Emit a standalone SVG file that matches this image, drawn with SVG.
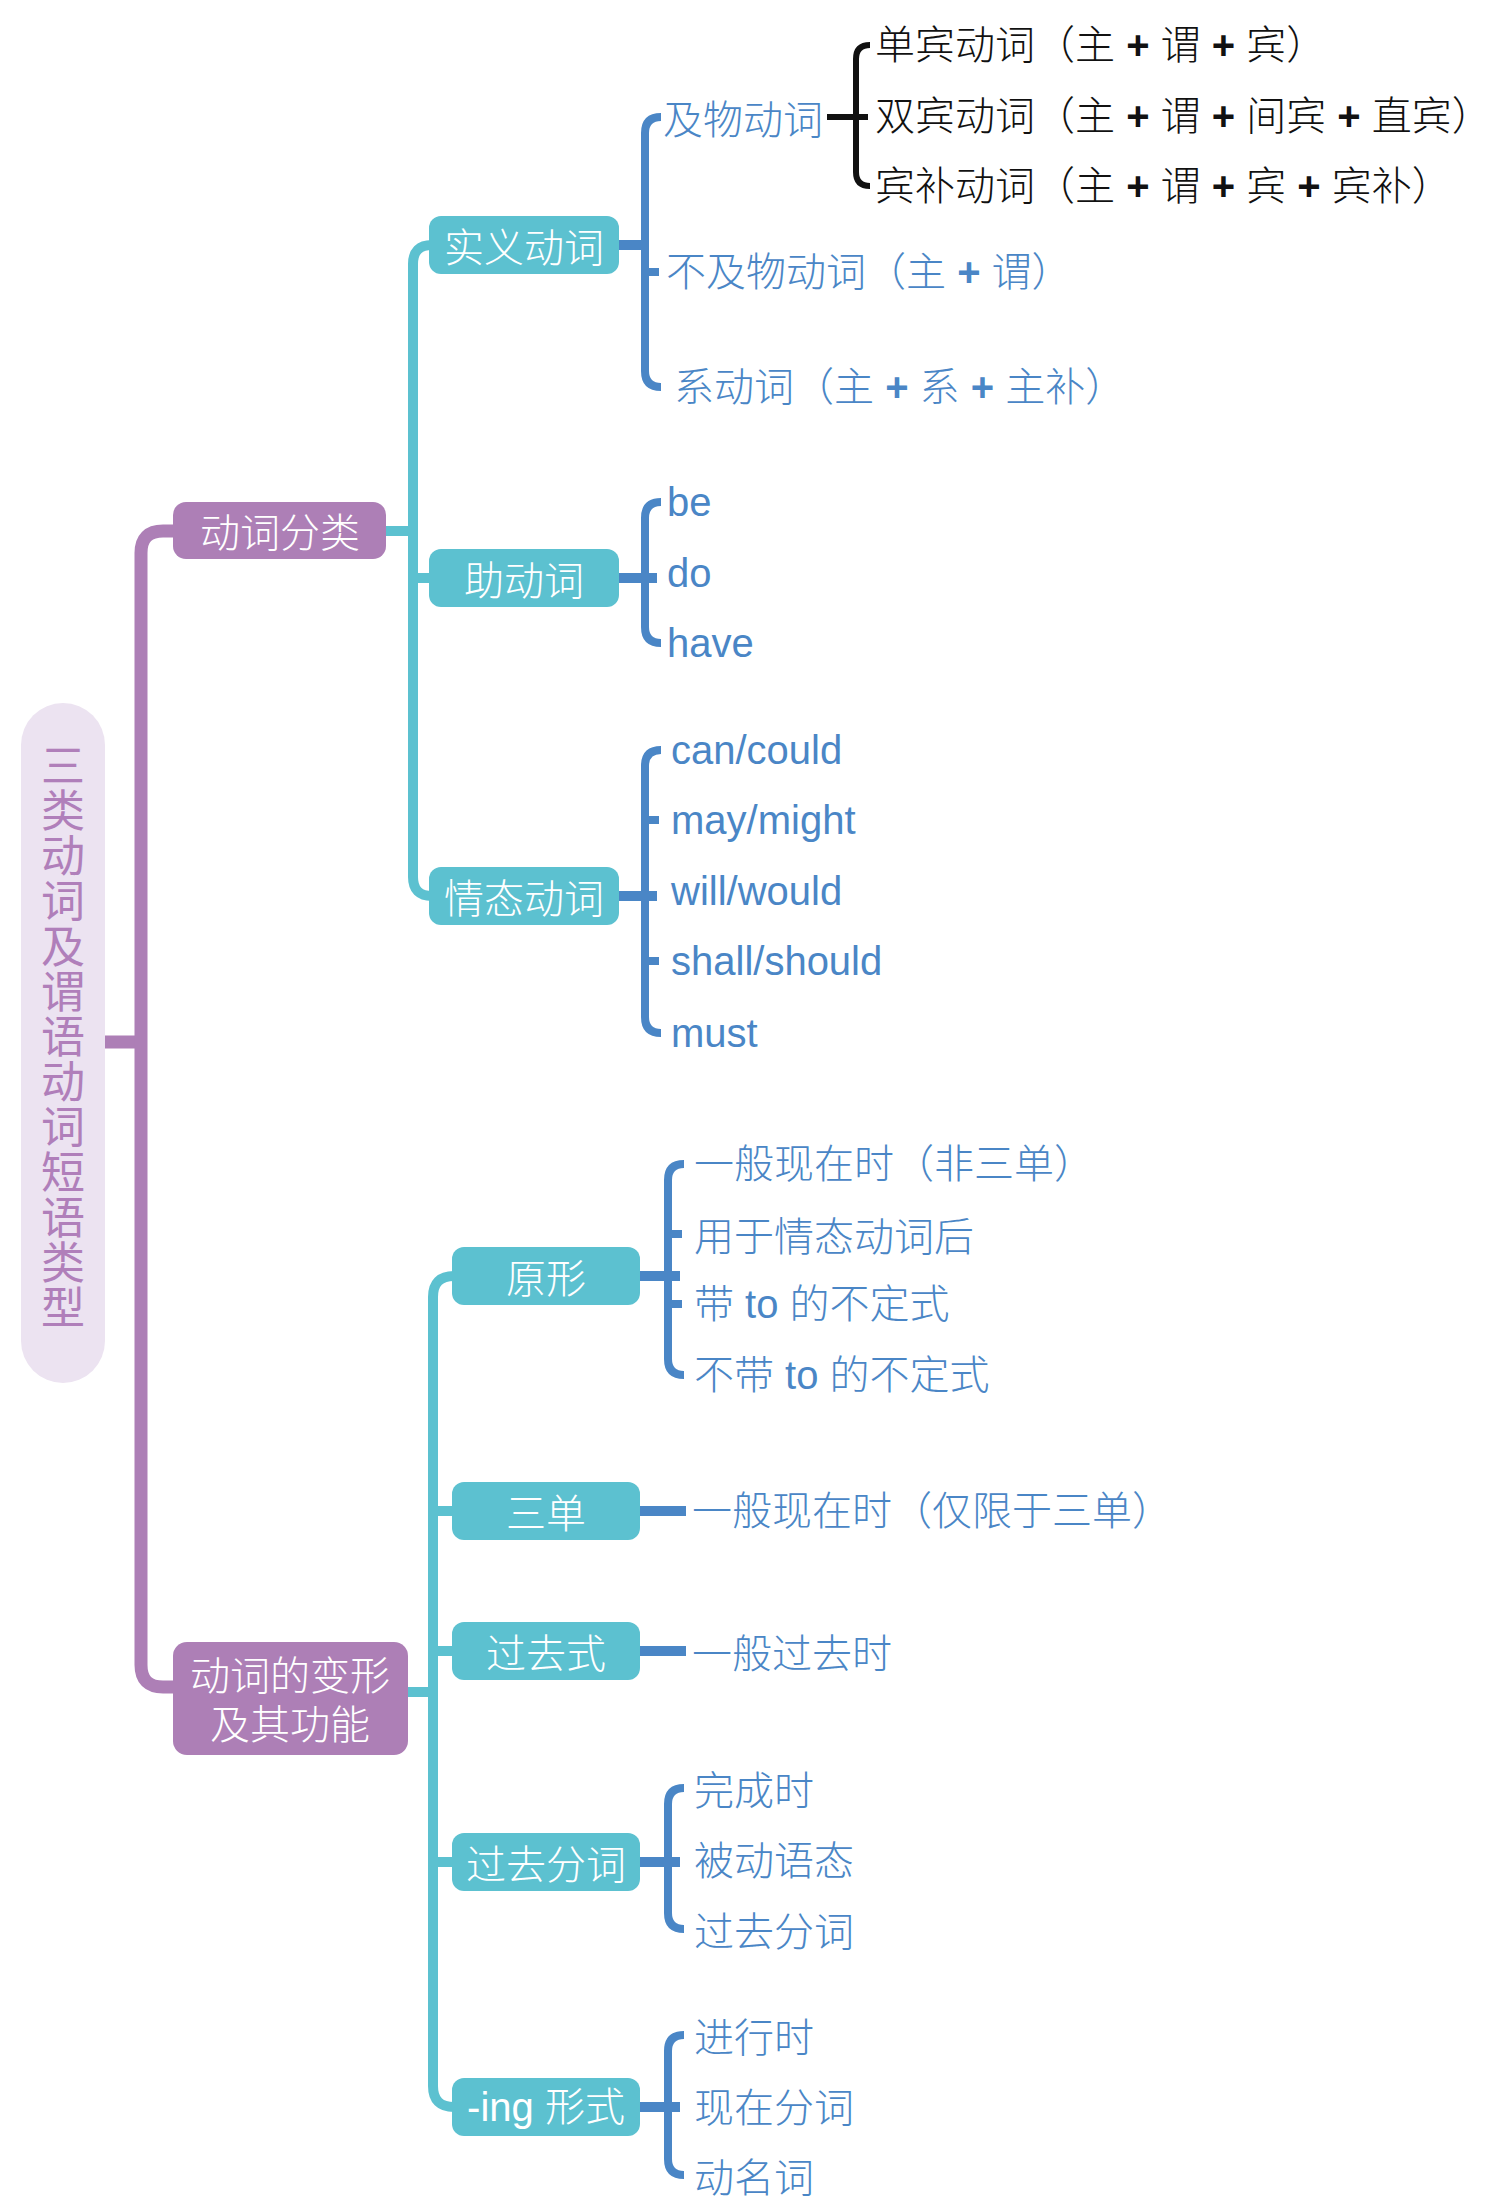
<svg xmlns="http://www.w3.org/2000/svg" width="1500" height="2207" viewBox="0 0 1500 2207">
  <style>
    .cjk { font-family: "Noto Sans CJK SC", "Liberation Sans", sans-serif; font-size: 40px; dominant-baseline: central; font-weight: 300; }
    .lat { font-family: "Liberation Sans", "Noto Sans CJK SC", sans-serif; font-size: 40px; dominant-baseline: central; font-weight: 300; }
    .white { fill: #ffffff; text-anchor: middle; }
    .blue { fill: #4a86c6; }
    .black { fill: #111111; }
    .plus { font-family: "Liberation Sans", sans-serif; font-weight: bold; }
    .root-text { font-family: "Noto Sans CJK SC", sans-serif; font-size: 44px; font-weight: 400; fill: #b07fba; writing-mode: vertical-rl; letter-spacing: 1.2px; }
    .box-purple { fill: #ad7fb6; }
    .box-teal { fill: #5cc1d0; }
    .c-purple { stroke: #ad7fb6; stroke-width: 13; fill: none; }
    .c-teal { stroke: #5cc1d0; stroke-width: 10; fill: none; }
    .c-blue { stroke: #4a86c6; stroke-width: 8; fill: none; }
    .c-blue-thick { stroke: #4a86c6; stroke-width: 10; fill: none; }
    .c-black { stroke: #111111; stroke-width: 6; fill: none; }
  </style>

  <rect width="1500" height="2207" fill="#ffffff"/>

  <!-- connectors -->
  <g id="connectors">
    <!-- root to first level -->
    <path class="c-purple" d="M105 1042 H141"/>
    <path class="c-purple" d="M175 531 H163 Q141 531 141 553 V1665 Q141 1687 163 1687 H175"/>
    <!-- 动词分类 to its children -->
    <path class="c-teal" d="M386 531 H413"/>
    <path class="c-teal" d="M432 245 Q413 245 413 264 V877 Q413 896 432 896"/>
    <path class="c-teal" d="M413 578 H431"/>
    <!-- 动词的变形 to its children -->
    <path class="c-teal" d="M408 1692 H433"/>
    <path class="c-teal" d="M454 1276 Q433 1276 433 1297 V2086 Q433 2107 454 2107"/>
    <path class="c-teal" d="M433 1511 H454"/>
    <path class="c-teal" d="M433 1651 H454"/>
    <path class="c-teal" d="M433 1862 H454"/>
    <!-- 实义动词 bracket -->
    <path class="c-blue-thick" d="M619 245 H645"/>
    <path class="c-blue" d="M661 117 Q645 117 645 133 V371 Q645 387 661 387"/>
    <path class="c-blue" d="M645 272 H659"/>
    <!-- 及物动词 bracket -->
    <path class="c-black" d="M827 117 H868"/>
    <path class="c-black" d="M870 45 Q856 45 856 59 V172 Q856 186 870 186"/>
    <!-- 助动词 bracket -->
    <path class="c-blue-thick" d="M619 578 H657"/>
    <path class="c-blue" d="M661 502 Q645 502 645 518 V627 Q645 643 661 643"/>
    <!-- 情态动词 bracket -->
    <path class="c-blue-thick" d="M619 896 H657"/>
    <path class="c-blue" d="M661 750 Q645 750 645 766 V1017 Q645 1033 661 1033"/>
    <path class="c-blue" d="M645 820 H659"/>
    <path class="c-blue" d="M645 961 H659"/>
    <!-- 原形 bracket -->
    <path class="c-blue-thick" d="M640 1276 H680"/>
    <path class="c-blue" d="M684 1164 Q668 1164 668 1180 V1359 Q668 1375 684 1375"/>
    <path class="c-blue" d="M668 1234 H682"/>
    <path class="c-blue" d="M668 1304 H682"/>
    <!-- 三单 / 过去式 -->
    <path class="c-blue-thick" d="M640 1511 H686"/>
    <path class="c-blue-thick" d="M640 1651 H686"/>
    <!-- 过去分词 bracket -->
    <path class="c-blue-thick" d="M640 1862 H680"/>
    <path class="c-blue" d="M684 1788 Q668 1788 668 1804 V1913 Q668 1929 684 1929"/>
    <!-- -ing 形式 bracket -->
    <path class="c-blue-thick" d="M640 2107 H680"/>
    <path class="c-blue" d="M684 2035 Q668 2035 668 2051 V2159 Q668 2175 684 2175"/>
  </g>

  <!-- root -->
  <g id="root">
    <rect x="21" y="703" width="84" height="680" rx="42" fill="#ece3f1"/>
    <text class="root-text" x="63" y="743">三类动词及谓语动词短语类型</text>
  </g>

  <!-- first level -->
  <g id="node-classify">
    <rect class="box-purple" x="173" y="502" width="213" height="57" rx="13"/>
    <text class="cjk white" x="280" y="530">动词分类</text>
  </g>
  <g id="node-forms">
    <rect class="box-purple" x="173" y="1642" width="235" height="113" rx="14"/>
    <text class="cjk white"><tspan x="290" y="1673">动词的变形</tspan><tspan x="290" y="1722">及其功能</tspan></text>
  </g>

  <!-- 动词分类 children -->
  <g id="node-notional">
    <rect class="box-teal" x="429" y="216" width="190" height="58" rx="12"/>
    <text class="cjk white" x="524" y="245">实义动词</text>
  </g>
  <g id="node-auxiliary">
    <rect class="box-teal" x="429" y="549" width="190" height="58" rx="12"/>
    <text class="cjk white" x="524" y="578">助动词</text>
  </g>
  <g id="node-modal">
    <rect class="box-teal" x="429" y="867" width="190" height="58" rx="12"/>
    <text class="cjk white" x="524" y="896">情态动词</text>
  </g>

  <!-- 实义动词 children -->
  <g id="node-transitive">
    <text class="cjk blue" x="663" y="117">及物动词</text>
  </g>
  <g id="node-mono">
    <text class="lat black" x="875" y="45">单宾动词（主 <tspan class="plus">+</tspan> 谓 <tspan class="plus">+</tspan> 宾）</text>
  </g>
  <g id="node-ditrans">
    <text class="lat black" x="875" y="116">双宾动词（主 <tspan class="plus">+</tspan> 谓 <tspan class="plus">+</tspan> 间宾 <tspan class="plus">+</tspan> 直宾）</text>
  </g>
  <g id="node-complex">
    <text class="lat black" x="875" y="186">宾补动词（主 <tspan class="plus">+</tspan> 谓 <tspan class="plus">+</tspan> 宾 <tspan class="plus">+</tspan> 宾补）</text>
  </g>
  <g id="node-intransitive">
    <text class="lat blue" x="666" y="272">不及物动词（主 <tspan class="plus">+</tspan> 谓）</text>
  </g>
  <g id="node-linking">
    <text class="lat blue" x="674" y="387">系动词（主 <tspan class="plus">+</tspan> 系 <tspan class="plus">+</tspan> 主补）</text>
  </g>

  <!-- 助动词 children -->
  <g id="node-be"><text class="lat blue" x="667" y="502">be</text></g>
  <g id="node-do"><text class="lat blue" x="667" y="573">do</text></g>
  <g id="node-have"><text class="lat blue" x="667" y="643">have</text></g>

  <!-- 情态动词 children -->
  <g id="node-can"><text class="lat blue" x="671" y="750">can/could</text></g>
  <g id="node-may"><text class="lat blue" x="671" y="820">may/might</text></g>
  <g id="node-will"><text class="lat blue" x="671" y="891">will/would</text></g>
  <g id="node-shall"><text class="lat blue" x="671" y="961">shall/should</text></g>
  <g id="node-must"><text class="lat blue" x="671" y="1033">must</text></g>

  <!-- 动词的变形 children -->
  <g id="node-base">
    <rect class="box-teal" x="452" y="1247" width="188" height="58" rx="12"/>
    <text class="cjk white" x="546" y="1276">原形</text>
  </g>
  <g id="node-third">
    <rect class="box-teal" x="452" y="1482" width="188" height="58" rx="12"/>
    <text class="cjk white" x="546" y="1511">三单</text>
  </g>
  <g id="node-past">
    <rect class="box-teal" x="452" y="1622" width="188" height="58" rx="12"/>
    <text class="cjk white" x="546" y="1651">过去式</text>
  </g>
  <g id="node-pp">
    <rect class="box-teal" x="452" y="1833" width="188" height="58" rx="12"/>
    <text class="cjk white" x="546" y="1862">过去分词</text>
  </g>
  <g id="node-ing">
    <rect class="box-teal" x="452" y="2078" width="188" height="58" rx="12"/>
    <text class="lat white" x="546" y="2107">-ing 形式</text>
  </g>

  <!-- 原形 children -->
  <g id="node-base-1"><text class="lat blue" x="694" y="1164">一般现在时（非三单）</text></g>
  <g id="node-base-2"><text class="cjk blue" x="694" y="1234">用于情态动词后</text></g>
  <g id="node-base-3"><text class="lat blue" x="694" y="1304">带 to 的不定式</text></g>
  <g id="node-base-4"><text class="lat blue" x="694" y="1375">不带 to 的不定式</text></g>

  <!-- 三单 / 过去式 children -->
  <g id="node-third-1"><text class="lat blue" x="692" y="1511">一般现在时（仅限于三单）</text></g>
  <g id="node-past-1"><text class="cjk blue" x="692" y="1651">一般过去时</text></g>

  <!-- 过去分词 children -->
  <g id="node-pp-1"><text class="cjk blue" x="694" y="1788">完成时</text></g>
  <g id="node-pp-2"><text class="cjk blue" x="694" y="1858">被动语态</text></g>
  <g id="node-pp-3"><text class="cjk blue" x="694" y="1929">过去分词</text></g>

  <!-- -ing 形式 children -->
  <g id="node-ing-1"><text class="cjk blue" x="694" y="2035">进行时</text></g>
  <g id="node-ing-2"><text class="cjk blue" x="694" y="2105">现在分词</text></g>
  <g id="node-ing-3"><text class="cjk blue" x="694" y="2175">动名词</text></g>
</svg>
